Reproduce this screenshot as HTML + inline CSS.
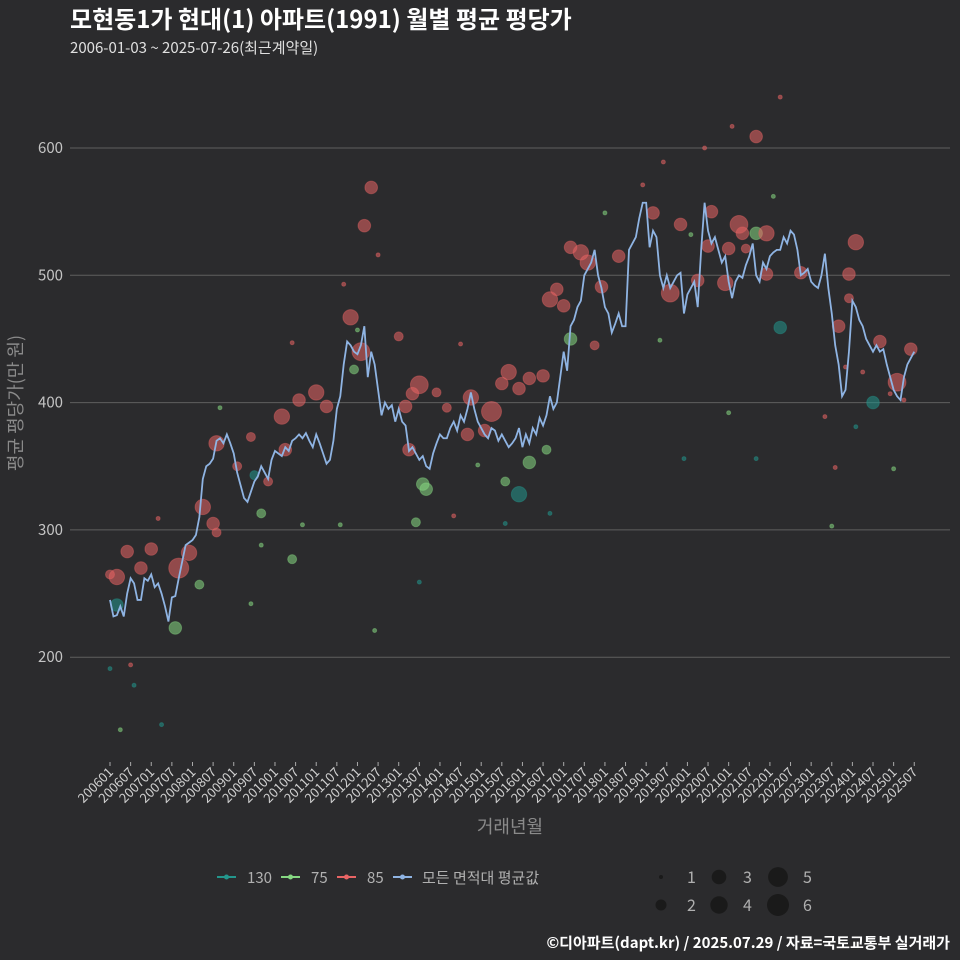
<!DOCTYPE html>
<html><head><meta charset="utf-8"><style>
html,body{margin:0;padding:0;background:#2b2b2d;}
svg{display:block;font-family:"Noto Sans CJK KR","Liberation Sans",sans-serif;}
</style></head><body>
<svg id="chart" width="960" height="960" viewBox="0 0 960 960">
<rect width="960" height="960" fill="#2b2b2d"/>
<text x="70" y="28" fill="#ffffff" font-size="24" font-weight="bold">모현동1가 현대(1) 아파트(1991) 월별 평균 평당가</text>
<text x="70" y="53" fill="#e0e0e0" font-size="15">2006-01-03 ~ 2025-07-26(최근계약일)</text>
<g id="grid"></g>
<g id="points"></g>
<g id="avgline"></g>
<g id="xaxis"></g>
<text transform="translate(22,403) rotate(-90)" text-anchor="middle" fill="#8a8a8a" font-size="18">평균 평당가(만 원)</text>
<text x="510" y="833" text-anchor="middle" fill="#8a8a8a" font-size="18">거래년월</text>
<g id="legend"></g>
<text x="950" y="948" text-anchor="end" fill="#ffffff" font-size="15" font-weight="bold">©디아파트(dapt.kr) / 2025.07.29 / 자료=국토교통부 실거래가</text>
</svg>
<script>
const yTicks=[200,300,400,500,600];
const xTickLabels=[];
for(let y=2006;y<=2025;y++){xTickLabels.push(y+'01');xTickLabels.push(y+'07');}
const avgValues=[
245,232,233,240,232,250,262,258,245,245,262,260,
265,255,258,250,240,228,247,248,262,275,288,290,
292,296,310,340,350,352,356,370,372,368,375,368,
360,345,335,325,322,330,338,342,350,345,340,355,
362,360,358,365,362,370,372,375,372,376,370,365,
375,368,360,352,355,370,395,405,430,448,445,440,
438,445,460,420,440,430,410,390,400,395,398,385,
395,385,382,362,365,360,355,358,350,348,360,368,
375,372,372,380,385,378,390,385,395,408,395,385,
380,375,372,380,378,370,375,370,365,368,372,380,
365,375,368,380,375,388,382,390,405,395,400,420,
440,425,460,465,475,480,500,505,510,520,500,490,
475,470,455,462,470,460,460,520,525,530,545,557,
557,522,535,530,500,490,500,490,495,500,502,470,
485,490,495,475,520,557,535,525,530,520,510,515,
495,482,495,500,498,508,515,525,500,495,510,505,
515,518,520,520,530,525,535,532,520,500,502,505,
495,492,490,500,517,490,470,445,430,405,410,440,
480,475,465,460,450,445,440,445,440,442,430,420,
410,405,402,420,430,435,440];
const red85Month=[20,5,2,0,12,9,23,27,31,30,31,37,41,46,50,51,55,60,63,70,74,76,73,84,86,90,88,87,95,98,104,105,111,109,116,114,122,119,126,128,130,132,134,137,139,143,141,148,158,166,163,175,174,171,183,180,179,188,184,185,191,191,201,212,215,217,215,224,229,233,6,14,68,78,53,100,102,173,181,195,161,155,211,208,214,219,227,231];
const red85Value=[270,283,263,265,285,270,282,318,368,305,298,350,373,338,389,363,402,408,397,467,539,569,440,452,397,414,407,363,408,396,375,404,393,378,424,415,419,411,421,481,489,476,522,518,510,491,445,515,549,540,486,550,523,496,540,521,494,609,533,521,501,533,502,460,482,526,501,448,416,442,194,309,493,516,447,311,446,600,617,640,589,571,349,389,428,424,407,402];
const red85Size=[6,3,4,2,3,3,4,4,4,3,2,2,2,2,4,3,3,4,3,4,3,3,5,2,3,5,3,3,2,2,3,4,6,3,4,3,3,3,3,4,3,3,3,4,4,3,2,3,3,3,5,3,3,3,5,3,4,3,3,2,3,4,3,3,2,4,3,3,5,3,1,1,1,1,1,1,1,1,1,1,1,1,1,1,1,1,1,1];
const green75Month=[19,26,44,53,32,41,3,71,89,91,92,122,115,127,134,144,188,180,193,56,67,44,107,160,228,210,169,77,72];
const green75Value=[223,257,313,277,396,242,143,426,306,336,332,353,338,363,450,549,533,392,562,304,304,288,351,449,348,303,532,221,457];
const green75Size=[3,2,2,2,1,1,1,2,2,3,3,3,2,2,3,1,3,1,1,1,1,1,1,1,1,1,1,1,1];
const teal130Month=[2,119,195,222,42,115,90,15,7,167,188,217,128,0];
const teal130Value=[241,328,459,400,343,305,259,147,178,356,356,381,313,191];
const teal130Size=[3,4,3,3,2,1,1,1,1,1,1,1,1,1];

const NS='http://www.w3.org/2000/svg';
const X0=110, DX=3.437;
function xScale(m){return X0+DX*m;}
function yScale(v){return 148+(600-v)*1.273;}
function rScale(s){return [0,2,4.5,6.3,7.7,8.9,10][s];}
function mk(tag,attrs,parent){const e=document.createElementNS(NS,tag);for(const k in attrs)e.setAttribute(k,attrs[k]);parent.appendChild(e);return e;}

const grid=document.getElementById('grid');
yTicks.forEach(v=>{
  const l=mk('line',{x1:70,x2:950,y1:yScale(v),y2:yScale(v),stroke:'#5f5f5f','stroke-width':1},grid);
  
  
  const t=mk('text',{x:63,y:yScale(v)+5,'text-anchor':'end',fill:'#c4c4c4','font-size':15},grid);
  t.textContent=v;
  
  
});
const xa=document.getElementById('xaxis');
xTickLabels.forEach((lab,i)=>{
  const x=xScale(i*6);
  const tk=mk('line',{x1:x,x2:x,y1:762,y2:766,stroke:'#aaa','stroke-width':1},xa);
  
  
  const t=mk('text',{transform:`translate(${x+4},${773}) rotate(-45)`,'text-anchor':'end',fill:'#d0d0d0','font-size':13},xa);
  t.textContent=lab;
  
  
});
const pts=document.getElementById('points');
function drawSeries(ms,vs,ss,color,name){
  ms.forEach((m,i)=>{
    const c=mk('circle',{cx:xScale(m),cy:yScale(vs[i]),r:rScale(ss[i]),fill:color,'fill-opacity':0.55,stroke:color,'stroke-opacity':0.4},pts);
    
    
  });
}
drawSeries(teal130Month,teal130Value,teal130Size,'#23968c','area-130');
drawSeries(green75Month,green75Value,green75Size,'#86d882','area-75');
drawSeries(red85Month,red85Value,red85Size,'#e86464','area-85');
const al=document.getElementById('avgline');
const p=mk('polyline',{points:avgValues.map((v,i)=>xScale(i)+','+yScale(v)).join(' '),fill:'none',stroke:'#8fb4e3','stroke-width':1.8},al);



const lg=document.getElementById('legend');
const items=[['130','#23968c',217,247],['75','#86d882',281,311],['85','#e86464',337,367],['모든 면적대 평균값','#8fb4e3',393,422]];
items.forEach(([lab,col,x,tx])=>{
  const g=mk('g',{},lg);
  
  
  mk('line',{x1:x,x2:x+19,y1:877,y2:877,stroke:col,'stroke-width':2},g);
  mk('circle',{cx:x+9.5,cy:877,r:2.5,fill:col},g);
  const t=mk('text',{x:tx,y:883,fill:'#b0b0b0','font-size':15},g);
  t.textContent=lab;
});
const sizes=[[1,661,877,687],[2,661,905,687],[3,719,877,743],[4,719,905,743],[5,778,877,803],[6,778,905,803]];
sizes.forEach(([s,cx,cy,tx])=>{
  const g=mk('g',{},lg);
  
  
  mk('circle',{cx:cx,cy:cy,r:rScale(s)+(s>1?1:0),fill:'#1a1a1a'},g);
  const t=mk('text',{x:tx,y:cy+6,fill:'#b0b0b0','font-size':16},g);
  t.textContent=s;
});
</script>
</body></html>
